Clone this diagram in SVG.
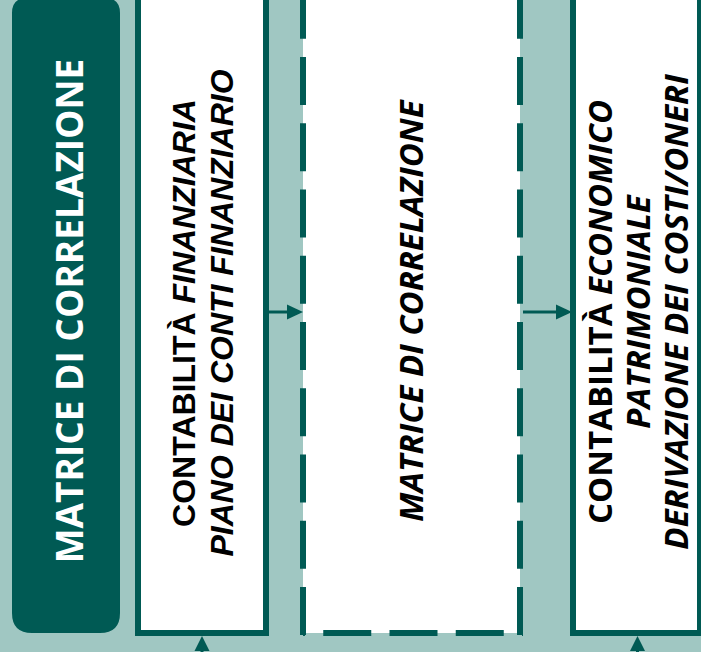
<svg xmlns="http://www.w3.org/2000/svg" width="701" height="652" viewBox="0 0 701 652">
  <style>
    .bg { fill: #a0c7c2; }
    .box { fill: #ffffff; stroke: #005a54; stroke-width: 6; }
    .dash { fill: none; stroke: #005a54; stroke-width: 6; stroke-dasharray: 48 18.25; }
    .conn { stroke: #005a54; stroke-width: 3; fill: none; }
    .head { fill: #005a54; }
    .title { font-family: "Open Sans", "DejaVu Sans", sans-serif; font-weight: bold; font-size: 37px; fill: #ffffff; }
    .sans { font-family: "Liberation Sans", Arial, sans-serif; font-weight: bold; font-size: 32px; fill: #000000; }
    .open { font-family: "Open Sans", "DejaVu Sans", sans-serif; font-weight: bold; font-size: 33px; fill: #000000; }
    .it { font-style: italic; }
  </style>

  <rect class="bg" x="0" y="0" width="701" height="652"/>

  <!-- side banner -->
  <g id="banner">
    <path d="M12,-2 H105 Q120,-2 120,13 V613 Q120,633 100,633 H32 Q12,633 12,613 V13 Q12,-2 27,-2 Z" fill="#005a54"/>
    <text class="title" transform="translate(83,311) rotate(-90)" text-anchor="middle">MATRICE DI CORRELAZIONE</text>
  </g>

  <!-- financial accounting -->
  <g id="finanziaria">
    <rect class="box" x="138" y="-10" width="128" height="643"/>
    <text class="sans" transform="translate(195,313) rotate(-90)" text-anchor="middle">CONTABILITÀ <tspan class="it">FINANZIARIA</tspan></text>
    <text class="sans it" transform="translate(233,313) rotate(-90)" text-anchor="middle">PIANO DEI CONTI FINANZIARIO</text>
  </g>

  <!-- correlation matrix -->
  <g id="matrice">
    <rect x="303" y="-10" width="217" height="643" fill="#ffffff"/>
    <line class="dash" x1="303" y1="0" x2="303" y2="636" stroke-dashoffset="9.25"/>
    <line class="dash" x1="520" y1="0" x2="520" y2="636" stroke-dashoffset="9.25"/>
    <line class="dash" x1="303" y1="633" x2="523" y2="633" stroke-dashoffset="46"/>
    <text class="open it" transform="translate(423,311) rotate(-90)" text-anchor="middle">MATRICE DI CORRELAZIONE</text>
  </g>

  <!-- economic / patrimonial accounting -->
  <g id="economico">
    <rect class="box" x="573" y="-10" width="127" height="643"/>
    <text class="open" transform="translate(612,312) rotate(-90)" text-anchor="middle">CONTABILITÀ <tspan class="it">ECONOMICO</tspan></text>
    <text class="open it" transform="translate(650,312) rotate(-90)" text-anchor="middle">PATRIMONIALE</text>
    <text class="open it" transform="translate(688,312) rotate(-90)" text-anchor="middle">DERIVAZIONE DEI COSTI/ONERI</text>
  </g>

  <!-- connectors -->
  <g id="connectors">
    <line class="conn" x1="269" y1="312" x2="290" y2="312"/>
    <polygon class="head" points="303,312 287,304.5 287,319.5"/>
    <line class="conn" x1="523" y1="312" x2="559" y2="312"/>
    <polygon class="head" points="572,312 556,304.5 556,319.5"/>
    <line class="conn" x1="202" y1="652" x2="202" y2="646"/>
    <polygon class="head" points="202,636 194.5,651 209.5,651"/>
    <line class="conn" x1="637.5" y1="652" x2="637.5" y2="646"/>
    <polygon class="head" points="637.5,636 630,651 645,651"/>
  </g>
</svg>
